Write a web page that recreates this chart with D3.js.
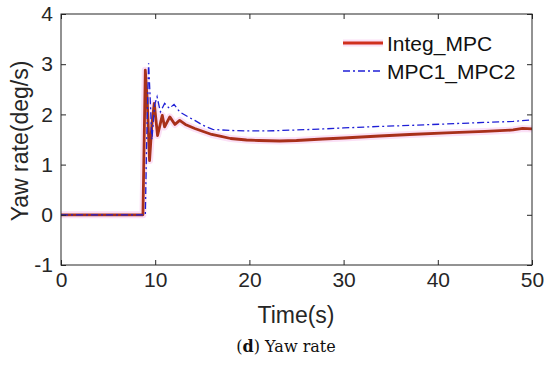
<!DOCTYPE html>
<html>
<head>
<meta charset="utf-8">
<script src="https://cdn.jsdelivr.net/npm/d3@7"></script>
<style>
  body{margin:0;background:#fff;}
  svg{display:block;}
</style>
</head>
<body>
<svg id="chart" width="550" height="365"></svg>
<script>
//data------------------------------------------------
var xTicks=[0,10,20,30,40,50];
var yTicks=[-1,0,1,2,3,4];
var seriesNames=['Integ_MPC','MPC1_MPC2'];
var integTime=[0,8.7,8.95,9.15,9.4,9.65,9.9,10.25,10.75,11.0,11.55,12.1,12.6,13.2,14.2,15.1,16,17,18,19.7,21,23.2,25,27.8,30,33.8,37,40.9,45,48,49,50];
var integVal=[0,0,2.88,2.3,1.08,1.8,2.22,1.58,1.98,1.75,1.95,1.8,1.88,1.8,1.72,1.66,1.6,1.56,1.52,1.49,1.48,1.47,1.48,1.51,1.53,1.57,1.6,1.63,1.66,1.69,1.72,1.71];
var mpcTime=[0,8.95,9.1,9.3,9.45,9.65,9.95,10.2,10.55,11.0,11.5,12.0,12.6,13.5,14.2,15.1,16.1,18,19.7,22,25,27.8,30,33.8,37,40.9,45,48,50];
var mpcVal=[0,0,1.5,3.02,2.4,1.5,2.2,2.35,2.05,2.22,2.12,2.2,2.05,1.95,1.88,1.78,1.7,1.68,1.67,1.67,1.69,1.71,1.73,1.76,1.78,1.81,1.84,1.86,1.89];

//layout (window.top is taken, so plot edges get their own names)
var pLeft=61,pRight=532,pTop=14,pBottom=265;
var sans='"Liberation Sans", Arial, sans-serif';
var svg=d3.select('#chart');
var x=d3.scaleLinear().domain([0,50]).range([pLeft,pRight]);
var y=d3.scaleLinear().domain([-1,4]).range([pBottom,pTop]);
var fmt=function(d){return String(d);};

var integ=integTime.map(function(t,i){return {t:t,v:integVal[i]};});
var mpc=mpcTime.map(function(t,i){return {t:t,v:mpcVal[i]};});
var line=d3.line().x(d=>x(d.t)).y(d=>y(d.v));

var plot=svg.append('g');
plot.append('path').datum(integ).attr('d',line)
  .attr('fill','none').attr('stroke','#fbe0f6').attr('stroke-width',7).attr('stroke-linejoin','round');
plot.append('path').datum(integ).attr('d',line)
  .attr('fill','none').attr('stroke','#a8301a').attr('stroke-width',2.8).attr('stroke-linejoin','round');
plot.append('path').datum(mpc).attr('d',line)
  .attr('fill','none').attr('stroke','#1f1fd6').attr('stroke-width',1.3).attr('stroke-dasharray','7,3,2,3');

//axes, ticks inward on all four sides
function styleAxis(g){
  g.select('.domain').remove();
  g.selectAll('line').attr('stroke','#262626');
  g.selectAll('text').attr('fill','#262626').style('font-family',sans).style('font-size','21px');
}
svg.append('g').attr('transform','translate(0,'+pBottom+')')
  .call(d3.axisBottom(x).tickValues(xTicks).tickFormat(fmt).tickSizeInner(-5).tickSizeOuter(0).tickPadding(7))
  .call(styleAxis);
svg.append('g').attr('transform','translate('+pLeft+',0)')
  .call(d3.axisLeft(y).tickValues(yTicks).tickFormat(fmt).tickSizeInner(-5).tickSizeOuter(0).tickPadding(8))
  .call(styleAxis);
svg.append('g').attr('transform','translate(0,'+pTop+')')
  .call(d3.axisTop(x).tickValues(xTicks).tickFormat('').tickSizeInner(-5).tickSizeOuter(0))
  .call(styleAxis);
svg.append('g').attr('transform','translate('+pRight+',0)')
  .call(d3.axisRight(y).tickValues(yTicks).tickFormat('').tickSizeInner(-5).tickSizeOuter(0))
  .call(styleAxis);
svg.append('rect').attr('x',pLeft).attr('y',pTop).attr('width',pRight-pLeft).attr('height',pBottom-pTop)
  .attr('fill','none').attr('stroke','#262626').attr('stroke-width',1);

//axis titles
svg.append('text').attr('x',296).attr('y',323).attr('text-anchor','middle')
  .style('font-family',sans).style('font-size','23px').attr('fill','#262626')
  .text('Time(s)');
svg.append('text').attr('transform','translate(28,141) rotate(-90)').attr('text-anchor','middle')
  .style('font-family',sans).style('font-size','23px').attr('fill','#262626')
  .text('Yaw rate(deg/s)');

//legend
var leg=svg.append('g');
leg.append('line').attr('x1',343).attr('x2',383).attr('y1',43).attr('y2',43)
  .attr('stroke','#fbe0f6').attr('stroke-width',7);
leg.append('line').attr('x1',343).attr('x2',383).attr('y1',43).attr('y2',43)
  .attr('stroke','#d0301e').attr('stroke-width',2.8);
leg.append('line').attr('x1',343).attr('x2',383).attr('y1',71).attr('y2',71)
  .attr('stroke','#1f1fd6').attr('stroke-width',1.3).attr('stroke-dasharray','7,3,2,3');
leg.selectAll('text.lg').data(seriesNames).enter().append('text')
  .attr('x',387).attr('y',(d,i)=>51+i*28)
  .style('font-family',sans).style('font-size','21px').attr('fill','#111')
  .text(d=>d);

//caption
var cap=svg.append('text').attr('x',286).attr('y',352).attr('text-anchor','middle')
  .style('font-family','"DejaVu Serif", serif').style('font-size','16px').attr('fill','#111');
cap.append('tspan').text('(');
cap.append('tspan').style('font-weight','bold').text('d');
cap.append('tspan').text(') Yaw rate');
</script>
</body>
</html>
